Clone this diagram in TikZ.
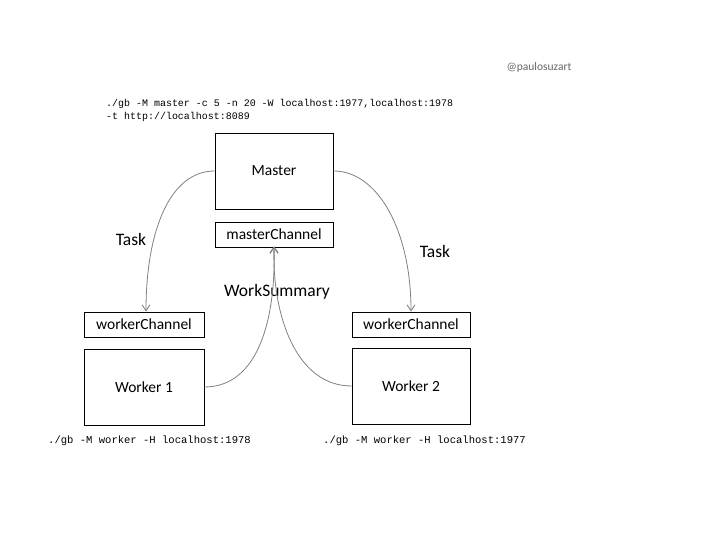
\documentclass[tikz,border=0pt]{standalone}
\usepackage{fontspec}
\setmainfont{Carlito}
\newfontfamily\monof{Liberation Mono}
\usetikzlibrary{arrows.meta}
\begin{document}
\begin{tikzpicture}[x=1pt,y=-1pt,
  box/.style={draw=black,line width=0.8pt,inner sep=0pt,font=\fontsize{15.5}{18}\selectfont},
  bigbox/.style={box,minimum width=118pt,minimum height=76pt},
  chan/.style={box,minimum width=118pt,minimum height=25pt},
  lbl/.style={font=\fontsize{17.5}{20}\selectfont,inner sep=0pt},
  cmd/.style={font=\monof\fontsize{10.55}{13}\selectfont,anchor=west,inner sep=0pt,align=left},
  conn/.style={draw=black!50,line width=0.8pt,-{Straight Barb[length=6pt,width=8pt,line width=0.9pt]}}]
\useasboundingbox (0,0) rectangle (720,540);
\node[bigbox] (master) at (274,171) {Master};
\node[chan] (mc) at (274,234.5) {masterChannel};
\node[chan,minimum width=120pt] (wcl) at (144,324.5) {workerChannel};
\node[bigbox,minimum width=120pt] (w1) at (144,387) {Worker 1};
\node[chan] (wcr) at (411,324.5) {workerChannel};
\node[bigbox] (w2) at (411,386) {Worker 2};
\node[lbl] (task1) at (131,239) {Task};
\node[lbl] (task2) at (435,251) {Task};
\node[lbl] (ws) at (277,292) {WorkSummary};
\node[font=\fontsize{11.5}{13}\selectfont,text=black!60,inner sep=0pt] (sig) at (539,67) {@paulosuzart};
\node[cmd,font=\monof\fontsize{9.97}{13}\selectfont] (cmdm) at (106,110.5) {./gb -M master -c 5 -n 20 -W localhost:1977,localhost:1978\\-t http://localhost:8089};
\node[cmd] (cmd1) at (48,441) {./gb -M worker -H localhost:1978};
\node[cmd] (cmd2) at (323,441) {./gb -M worker -H localhost:1977};
\coordinate (ml) at (master.west);
\coordinate (mr) at (master.east);
\draw[conn] (ml) .. controls +(-45,0) and +(0,-80) .. ([xshift=2pt]wcl.north);
\draw[conn] (mr) .. controls +(45,0) and +(0,-80) .. (wcr.north);
\draw[conn] (w1.east) .. controls +(55,0) and +(2,70) .. ([yshift=1pt]mc.south);
\draw[conn] (w2.west) .. controls +(-55,0) and +(-2,70) .. ([yshift=1pt]mc.south);
\end{tikzpicture}
\end{document}
